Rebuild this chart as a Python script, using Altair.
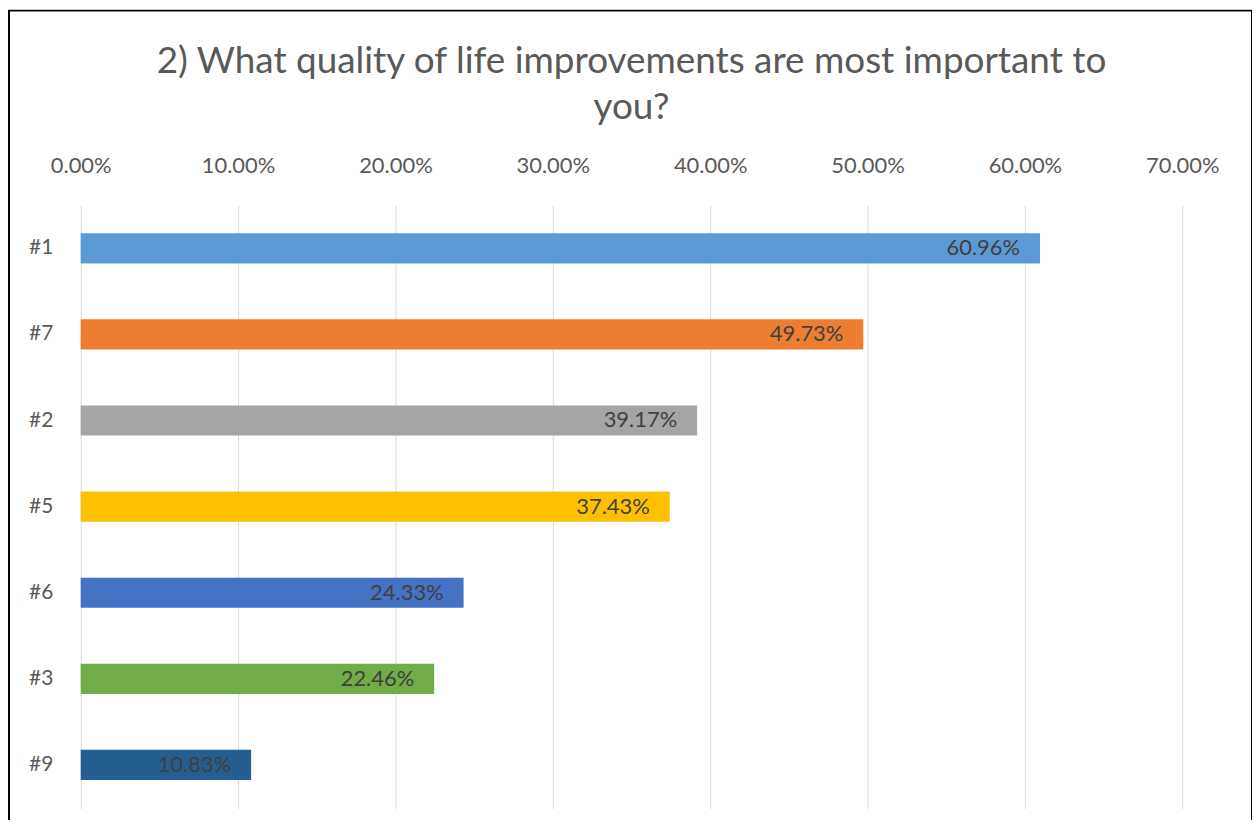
import altair as alt
import pandas as pd

categories = ["#1", "#7", "#2", "#5", "#6", "#3", "#9"]
values = [0.6096, 0.4973, 0.3917, 0.3743, 0.2433, 0.2246, 0.1083]
colors = ["#5B9BD5", "#ED7D31", "#A5A5A5", "#FFC000", "#4472C4", "#70AD47", "#255E91"]
tick_values = [0.0, 0.1, 0.2, 0.3, 0.4, 0.5, 0.6, 0.7]
title_lines = ["2) What quality of life improvements are most important to", "you?"]

df = pd.DataFrame({"cat": categories, "val": values})

FONT = "Lato"
LFS = 22
W, H = 1106, 606

base = alt.Chart(df)

bars = base.mark_bar().encode(
    x=alt.X("val:Q",
            scale=alt.Scale(domain=[0, 0.7], nice=False, zero=True),
            axis=alt.Axis(orient="top", values=tick_values, format=".2%", title=None,
                          domain=False, ticks=False, labelPadding=27, labelFontSize=LFS,
                          labelColor="#595959", labelFont=FONT, labelFlush=False,
                          grid=True, gridColor="#D9D9D9", gridWidth=1)),
    y=alt.Y("cat:N", sort=categories,
            scale=alt.Scale(paddingInner=0.65, paddingOuter=0.33),
            axis=alt.Axis(title=None, domain=False, ticks=False, labelPadding=28,
                          labelFontSize=21, labelColor="#595959", labelFont=FONT,
                          grid=False)),
    color=alt.Color("cat:N", scale=alt.Scale(domain=categories, range=colors), legend=None),
)

labels = base.mark_text(align="right", baseline="middle", dx=-20, fontSize=LFS,
                        font=FONT, color="#404040").encode(
    x="val:Q",
    y=alt.Y("cat:N", sort=categories),
    text=alt.Text("val:Q", format=".2%"),
)

title1 = alt.Chart(alt.Data(values=[{"t": title_lines[0]}])).mark_text(
    fontSize=37, font=FONT, color="#595959", align="center", baseline="middle"
).encode(x=alt.value(W / 2), y=alt.value(-143), text="t:N")

title2 = alt.Chart(alt.Data(values=[{"t": title_lines[1]}])).mark_text(
    fontSize=37, font=FONT, color="#595959", align="center", baseline="middle"
).encode(x=alt.value(W / 2), y=alt.value(-97), text="t:N")

frame = alt.Chart(alt.Data(values=[{}])).mark_rect(
    fill="transparent", stroke="#000000", strokeWidth=2
).encode(
    x=alt.value(-72), x2=alt.value(1176), y=alt.value(-195), y2=alt.value(H + 60)
)

chart = alt.layer(bars, labels, title1, title2, frame).properties(
    width=W, height=H,
    padding={"left": 73, "top": 196, "right": 70, "bottom": 10},
    autosize=alt.AutoSizeParams(type="none"),
    background="white",
).configure_view(stroke=None)

chart.save("out.html", embed_options={"renderer": "svg", "actions": False})
